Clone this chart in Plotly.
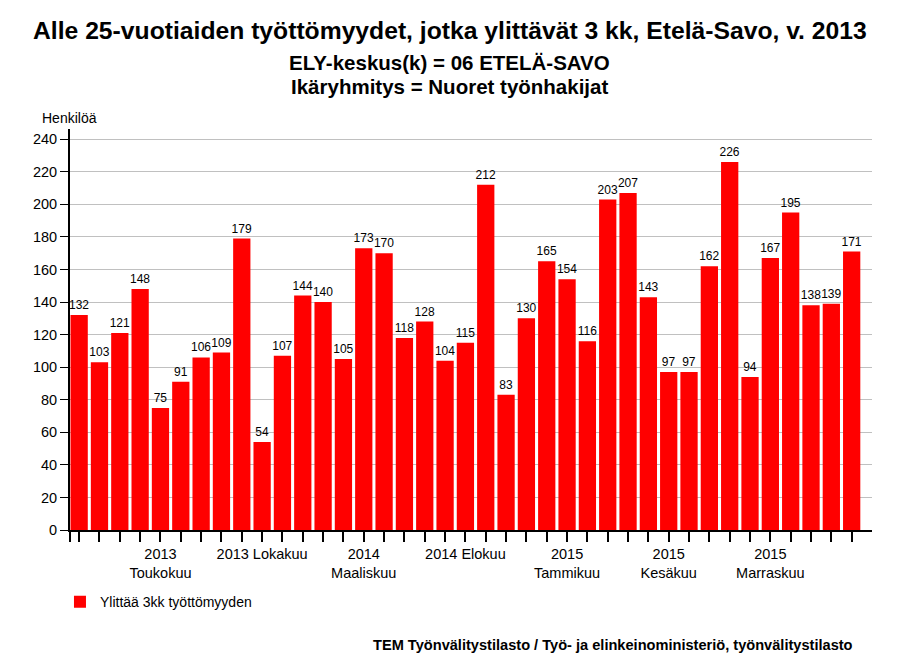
import plotly.graph_objects as go

# ---------------------------
# Data
# ---------------------------
months = [
    "2013 Tammikuu", "2013 Helmikuu", "2013 Maaliskuu", "2013 Huhtikuu", "2013 Toukokuu",
    "2013 Kesäkuu", "2013 Heinäkuu", "2013 Elokuu", "2013 Syyskuu", "2013 Lokakuu",
    "2013 Marraskuu", "2013 Joulukuu", "2014 Tammikuu", "2014 Helmikuu", "2014 Maaliskuu",
    "2014 Huhtikuu", "2014 Toukokuu", "2014 Kesäkuu", "2014 Heinäkuu", "2014 Elokuu",
    "2014 Syyskuu", "2014 Lokakuu", "2014 Marraskuu", "2014 Joulukuu", "2015 Tammikuu",
    "2015 Helmikuu", "2015 Maaliskuu", "2015 Huhtikuu", "2015 Toukokuu", "2015 Kesäkuu",
    "2015 Heinäkuu", "2015 Elokuu", "2015 Syyskuu", "2015 Lokakuu", "2015 Marraskuu",
    "2015 Joulukuu", "2016 Tammikuu", "2016 Helmikuu", "2016 Maaliskuu",
]
values = [
    132, 103, 121, 148, 75, 91, 106, 109, 179, 54,
    107, 144, 140, 105, 173, 170, 118, 128, 104, 115,
    212, 83, 130, 165, 154, 116, 203, 207, 143, 97,
    97, 162, 226, 94, 167, 195, 138, 139, 171,
]
# labelled ticks: month index -> text shown under the axis
tick_labels = {
    4: "2013<br>Toukokuu",
    9: "2013 Lokakuu",
    14: "2014<br>Maaliskuu",
    19: "2014 Elokuu",
    24: "2015<br>Tammikuu",
    29: "2015<br>Kesäkuu",
    34: "2015<br>Marraskuu",
}
y_ticks = list(range(0, 241, 20))

x_pos = list(range(len(months)))
x_left = -0.45
tickvals = [x_left] + x_pos
ticktext = [""] + [tick_labels.get(i, "") for i in x_pos]

BODY_FONT = "Arial, Liberation Sans, sans-serif"
TITLE_FONT = "Arial, Liberation Sans, sans-serif"

# the html page adds an 8px body margin, so everything is placed 8px up/left
PLOT_TOP = 121      # figure px
PLOT_BOTTOM = 522
PLOT_LEFT = 62
PLOT_RIGHT = 864
PLOT_CX = (PLOT_LEFT + PLOT_RIGHT) / 2

fig = go.Figure()
fig.add_trace(go.Bar(
    x=x_pos,
    y=values,
    name="Ylittää 3kk työttömyyden",
    customdata=months,
    marker=dict(color="#FF0000", line=dict(width=0)),
    text=values,
    textposition="outside",
    constraintext="none",
    textfont=dict(size=12, color="black", family=BODY_FONT),
    cliponaxis=False,
    hovertemplate="%{customdata}<br>%{y}<extra></extra>",
))

fig.update_layout(
    width=900, height=666,
    margin=dict(l=PLOT_LEFT, r=900 - PLOT_RIGHT, t=PLOT_TOP, b=666 - PLOT_BOTTOM),
    paper_bgcolor="white",
    plot_bgcolor="white",
    font=dict(family=BODY_FONT, size=14.5, color="black"),
    bargap=0.15,
    showlegend=True,
    legend=dict(
        x=-0.0125, y=-0.14, xanchor="left", yanchor="top",
        font=dict(size=14), bgcolor="rgba(0,0,0,0)",
    ),
)

fig.update_xaxes(
    range=[x_left, 39.0],
    tickmode="array", tickvals=tickvals, ticktext=ticktext,
    tickangle=0,
    ticks="outside", ticklen=10, tickwidth=1.5, tickcolor="black",
    showline=True, linecolor="black", linewidth=2,
    showgrid=False, zeroline=False,
)
fig.update_yaxes(
    range=[0, 246.3],
    tickmode="array", tickvals=y_ticks,
    ticks="outside", ticklen=8, tickwidth=1, tickcolor="black",
    showline=True, linecolor="black", linewidth=2,
    showgrid=True, gridcolor="#C0C0C0", gridwidth=1,
    zeroline=False,
)


def top_text(text, y_px, size, x_px=441.5):
    # place text by figure pixel position relative to the plot area top
    fig.add_annotation(
        text=text,
        xref="paper", yref="paper", x=0.5, y=1.0, yanchor="middle",
        xshift=x_px - PLOT_CX, yshift=PLOT_TOP - y_px, showarrow=False,
        font=dict(family=TITLE_FONT, size=size),
    )


top_text("<b>Alle 25-vuotiaiden työttömyydet, jotka ylittävät 3 kk, Etelä-Savo, v. 2013</b>", 22, 24.7)
top_text("<b>ELY-keskus(k) = 06 ETELÄ-SAVO</b>", 54, 20.5)
top_text("<b>Ikäryhmitys = Nuoret työnhakijat</b>", 78, 20.5)

fig.add_annotation(
    text="Henkilöä",
    xref="paper", yref="paper", x=0, y=1.0, xanchor="left", yanchor="middle",
    xshift=32 - PLOT_LEFT, yshift=PLOT_TOP - 110, showarrow=False,
    font=dict(size=14),
)
fig.add_annotation(
    text="<b>TEM Työnvälitystilasto / Työ- ja elinkeinoministeriö, työnvälitystilasto</b>",
    xref="paper", yref="paper", x=1.0, y=0, xanchor="right", yanchor="middle",
    xshift=847 - PLOT_RIGHT, yshift=PLOT_BOTTOM - 637, showarrow=False,
    font=dict(size=14.6),
)

fig.write_html("out.html")
